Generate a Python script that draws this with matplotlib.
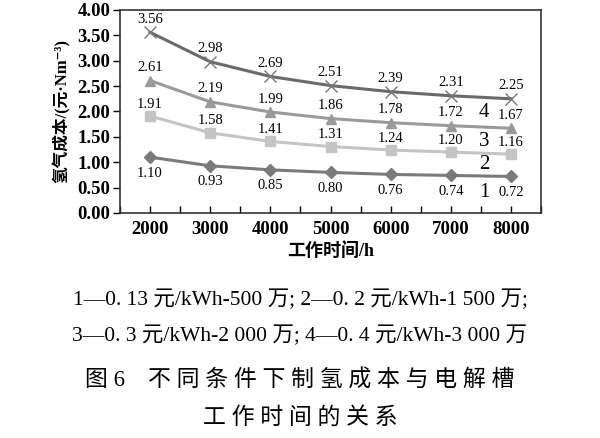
import numpy as np
import matplotlib
matplotlib.use("Agg")
import matplotlib.pyplot as plt
from matplotlib.ticker import MultipleLocator

plt.rcParams['font.family'] = ['Liberation Serif', 'Noto Sans CJK SC', 'DejaVu Sans']

# datos
horas = [2000, 3000, 4000, 5000, 6000, 7000, 8000]
costo_1 = [1.10, 0.93, 0.85, 0.80, 0.76, 0.74, 0.72]
costo_2 = [1.91, 1.58, 1.41, 1.31, 1.24, 1.20, 1.16]
costo_3 = [2.61, 2.19, 1.99, 1.86, 1.78, 1.72, 1.67]
costo_4 = [3.56, 2.98, 2.69, 2.51, 2.39, 2.31, 2.25]
nombres = ["1", "2", "3", "4"]

series = [
    (costo_1, "#7a7a7a", "D", 6, -16),
    (costo_2, "#c4c4c4", "s", 7, 12),
    (costo_3, "#9a9a9a", "^", 7, 13),
    (costo_4, "#6a6a6a", "x", 8, 13),
]

fig = plt.figure(figsize=(6, 4.38), dpi=100)
ax = fig.add_axes([0.2, 0.5137, 0.7017, 0.4635])

for valores, color, marca, tam, off in series:
    if marca == "x":
        ax.plot(horas, valores, color=color, lw=2.2, marker=marca, ms=tam,
                mew=1.0, mec="#777777", zorder=3)
    else:
        ax.plot(horas, valores, color=color, lw=2.2, marker=marca, ms=tam,
                mec=color, zorder=3)
    for h, v in zip(horas, valores):
        ax.annotate(f"{v:.2f}", (h, v), xytext=(0, off * 0.72),
                    textcoords="offset points", ha="center", va="center",
                    fontsize=10.5)

# numeros de cada curva
pos_nombres = [0.41, 0.95, 1.40, 1.99]
for n, y in zip(nombres, pos_nombres):
    ax.text(7550, y, n, ha="center", va="center", fontsize=15)

ax.set_xlim(1500, 8500)
ax.set_ylim(0, 4)
ax.set_xticks(horas)
ax.xaxis.set_minor_locator(MultipleLocator(500))
ax.yaxis.set_major_locator(MultipleLocator(0.5))
ax.yaxis.set_major_formatter(matplotlib.ticker.FormatStrFormatter("%.2f"))
ax.tick_params(axis="x", which="both", direction="in", length=5, width=1)
ax.tick_params(axis="x", which="major", pad=6)
ax.tick_params(axis="y", direction="out", length=5, width=1, pad=2)
ax.tick_params(labelsize=13.5)
for lab in ax.get_xticklabels() + ax.get_yticklabels():
    lab.set_fontweight("bold")
for s in ax.spines.values():
    s.set_linewidth(1.2)
    s.set_color("#333333")

ax.set_xlabel("工作时间/h", fontsize=13, fontweight="bold", labelpad=3)
ax.set_ylabel("氢气成本/(元·Nm⁻³)", fontsize=12, fontweight="bold", labelpad=5)

fig.text(0.5, 1 - 300 / 438, "1—0. 13 元/kWh-500 万; 2—0. 2 元/kWh-1 500 万;",
         ha="center", va="center", fontsize=15.5)
fig.text(0.5, 1 - 336 / 438, "3—0. 3 元/kWh-2 000 万; 4—0. 4 元/kWh-3 000 万",
         ha="center", va="center", fontsize=15.5)
fig.text(0.5, 1 - 381 / 438, "图 6    不 同 条 件 下 制 氢 成 本 与 电 解 槽",
         ha="center", va="center", fontsize=16.5)
fig.text(0.5, 1 - 418 / 438, "工 作 时 间 的 关 系",
         ha="center", va="center", fontsize=16.5)

fig.savefig("out.png", dpi=100)
